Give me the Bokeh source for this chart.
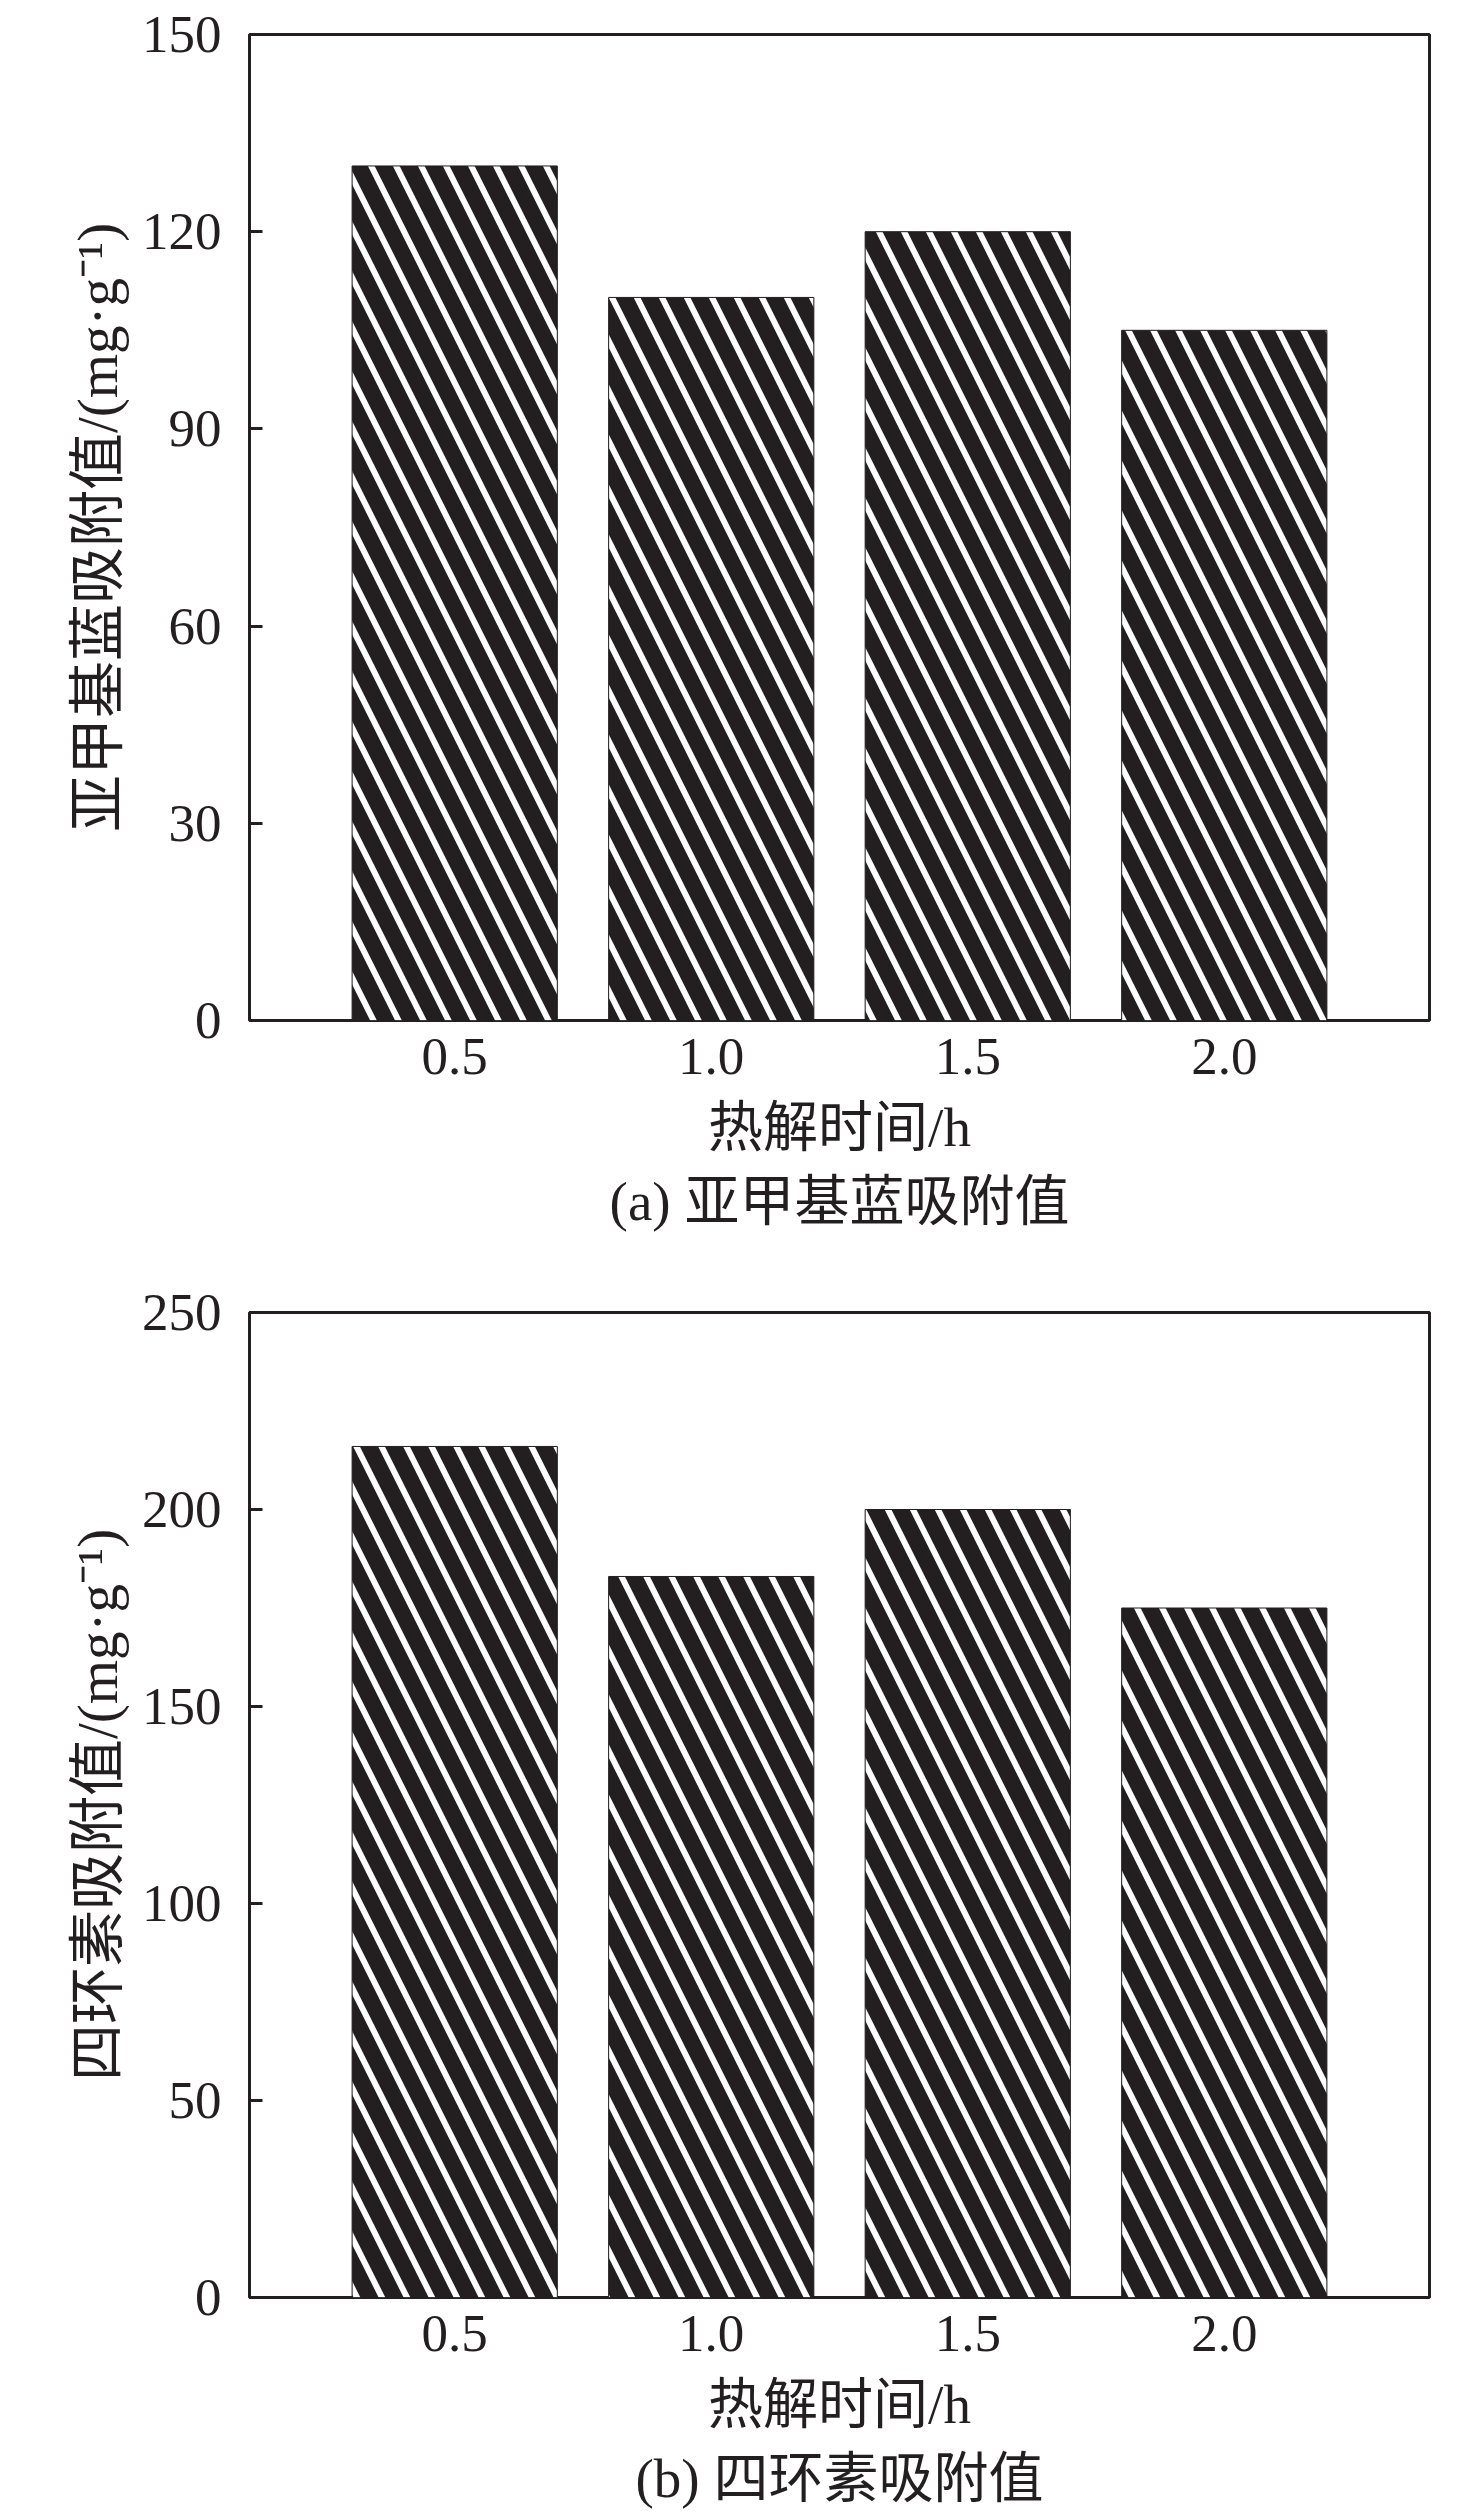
from bokeh.plotting import figure
from bokeh.models import Range1d, FixedTicker, Title
from bokeh.layouts import column
from bokeh.embed import file_html
from bokeh.resources import INLINE

# ---- data ----
time_labels = ["0.5", "1.0", "1.5", "2.0"]
mb_values = [130, 110, 120, 105]          # 亚甲基蓝吸附值
tc_values = [216, 183, 200, 175]          # 四环素吸附值
mb_yticks = [0, 30, 60, 90, 120, 150]
tc_yticks = [0, 50, 100, 150, 200, 250]
x_title = "热解时间/h"
mb_ylabel = "亚甲基蓝吸附值/(mg·g⁻¹)"
tc_ylabel = "四环素吸附值/(mg·g⁻¹)"
mb_caption = "(a) 亚甲基蓝吸附值"
tc_caption = "(b) 四环素吸附值"

INK = "#231f20"
FONT = "Liberation Serif, Noto Sans CJK SC"
TICK_FS = "53px"
LAB_FS = "55px"
YLAB_FS = "57px"


def make_chart(values, yticks, ylabel, caption, frame_h, top_border, bottom_border):
    xs = list(range(1, len(time_labels) + 1))
    p = figure(frame_width=1180, frame_height=frame_h,
               output_backend="svg", toolbar_location=None,
               x_range=Range1d(0.2, len(time_labels) + 0.8),
               y_range=Range1d(yticks[0], yticks[-1]),
               min_border_left=249, min_border_right=47,
               min_border_top=top_border, min_border_bottom=bottom_border)
    p.vbar(x=xs, top=values, width=0.8, fill_color=INK, line_color=INK, line_width=1,
           hatch_pattern="\\", hatch_color="white", hatch_scale=50, hatch_weight=6)
    p.xgrid.visible = False
    p.ygrid.visible = False
    p.outline_line_color = INK
    p.outline_line_width = 3
    p.background_fill_color = "white"
    p.border_fill_color = "white"

    xa = p.xaxis[0]
    xa.ticker = FixedTicker(ticks=xs)
    xa.major_label_overrides = {x: lab for x, lab in zip(xs, time_labels)}
    xa.major_tick_line_color = None
    xa.minor_tick_line_color = None
    xa.axis_line_color = None
    xa.major_label_standoff = 12
    xa.major_label_text_font = FONT
    xa.major_label_text_font_size = TICK_FS
    xa.major_label_text_color = INK
    xa.axis_label = x_title
    xa.axis_label_standoff = 20
    xa.axis_label_text_font = FONT
    xa.axis_label_text_font_size = LAB_FS
    xa.axis_label_text_font_style = "normal"
    xa.axis_label_text_color = INK

    ya = p.yaxis[0]
    ya.ticker = FixedTicker(ticks=yticks)
    ya.minor_tick_line_color = None
    ya.axis_line_color = None
    ya.major_tick_in = 13
    ya.major_tick_out = 0
    ya.major_tick_line_width = 3
    ya.major_tick_line_color = INK
    ya.major_label_standoff = 28
    ya.major_label_text_font = FONT
    ya.major_label_text_font_size = TICK_FS
    ya.major_label_text_color = INK
    ya.axis_label = ylabel
    ya.axis_label_standoff = 10
    ya.axis_label_text_font = FONT
    ya.axis_label_text_font_size = YLAB_FS
    ya.axis_label_text_font_style = "normal"
    ya.axis_label_text_color = INK

    t = Title(text=caption, align="center", text_font=FONT, text_font_size=LAB_FS,
              text_font_style="normal", text_color=INK, standoff=16)
    p.add_layout(t, "below")
    return p


pa = make_chart(mb_values, mb_yticks, mb_ylabel, mb_caption, 986, 34, 240)
pb = make_chart(tc_values, tc_yticks, tc_ylabel, tc_caption, 985, 52, 222)

layout = column(pa, pb, spacing=0)
open("out.html", "w").write(file_html(layout, INLINE))
